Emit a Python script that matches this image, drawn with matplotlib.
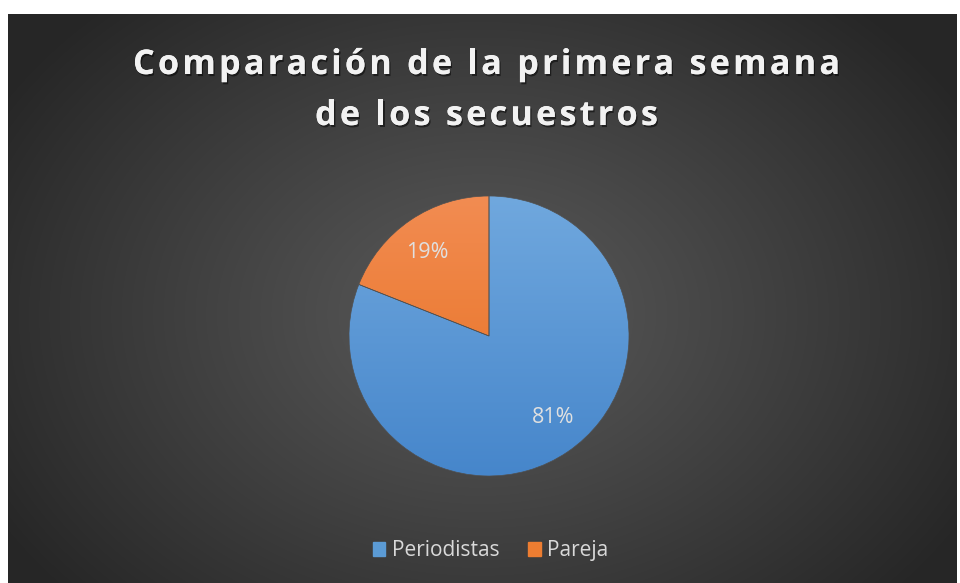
import numpy as np
import matplotlib.pyplot as plt
import matplotlib.patheffects as pe
from matplotlib.patches import Rectangle
from matplotlib import font_manager
from matplotlib.ft2font import FT2Font
from matplotlib.colors import to_rgb

# Datos del gráfico
categorias = ['Periodistas', 'Pareja']
valores = [81, 19]
etiquetas = ['81%', '19%']
colores_sup = ['#70a8de', '#f28c52']
colores_inf = ['#4686cb', '#e66e1c']
titulo = ['Comparación de la primera semana', 'de los secuestros']

W, H = 960, 583
fig = plt.figure(figsize=(W / 100, H / 100), dpi=100, facecolor='white')

# Fondo con degradado radial
bg = fig.add_axes([8 / W, 0, 949 / W, 569 / H])
bg.set_axis_off()
yy, xx = np.mgrid[0:569, 0:949]
d = np.sqrt(((xx - 472) / 560.0) ** 2 + ((yy - 300) / 420.0) ** 2)
d = np.clip(d, 0, 1)
g = 0.35 - 0.20 * d ** 1.1
bg.imshow(np.dstack([g, g, g]), aspect='auto', extent=[0, 1, 0, 1], origin='upper')
bg.set_xlim(0, 1)
bg.set_ylim(0, 1)

# Título con espaciado entre letras (colocado letra a letra)
tsize = 24.5
fp = font_manager.FontProperties(family='Open Sans', weight='bold')
ft = FT2Font(font_manager.findfont(fp))
ft.set_size(tsize, 72)


def avances(s):
    return [ft.load_char(ord(c)).linearHoriAdvance / 65536.0 * 100 / 72 for c in s]


adv1 = avances(titulo[0])
spacing = (707 - sum(adv1)) / (len(titulo[0]) - 1)
centro = 486.5
sombra = [pe.withSimplePatchShadow(offset=(1, -1.5), shadow_rgbFace='black', alpha=0.5), pe.Normal()]
for linea, base in zip(titulo, [74, 125]):
    a = avances(linea)
    ancho = sum(a) + spacing * (len(linea) - 1)
    x = centro - ancho / 2
    for c, w in zip(linea, a):
        if c != ' ':
            fig.text(x / W, 1 - base / H, c, ha='left', va='baseline', color='#f2f2f2',
                     fontsize=tsize, fontweight='bold', family='Open Sans', path_effects=sombra)
        x += w + spacing

# Pastel
ax = fig.add_axes([349 / W, 107 / H, 280 / W, 280 / H])
wedges, _ = ax.pie(valores, startangle=90, counterclock=False, radius=1,
                   wedgeprops=dict(linewidth=0.5, edgecolor='#505050'))
grad = np.linspace(0, 1, 256)[:, None, None]
for w, c1, c2 in zip(wedges, colores_sup, colores_inf):
    a = np.array(to_rgb(c1))[None, None, :]
    b = np.array(to_rgb(c2))[None, None, :]
    col = np.repeat(a * (1 - grad) + b * grad, 2, axis=1)
    w.set_facecolor('none')
    im = ax.imshow(col, extent=[-1, 1, -1, 1], origin='upper', aspect='auto', zorder=0)
    im.set_clip_path(w)

# Etiquetas de datos
pos = [(0.457, -0.579), (-0.443, 0.6)]
for (x, y), t in zip(pos, etiquetas):
    ax.text(x, y, t, ha='center', va='center', color='#e0e0e0', fontsize=15.5, family='Open Sans')
ax.set_xlim(-1, 1)
ax.set_ylim(-1, 1)
ax.set_aspect('auto')
ax.set_axis_off()

# Leyenda
handles = [Rectangle((0, 0), 1, 1, color=c) for c in ['#5b9bd5', '#ed7d31']]
fig.legend(handles, categorias, loc='center', bbox_to_anchor=(0.511, 0.055), ncol=2,
           frameon=False, labelcolor='#d9d9d9', handlelength=0.6,
           handleheight=0.6, handletextpad=0.3, columnspacing=1.4,
           prop={'family': 'Open Sans', 'size': 15})

fig.savefig('out.png', dpi=100, facecolor='white')
